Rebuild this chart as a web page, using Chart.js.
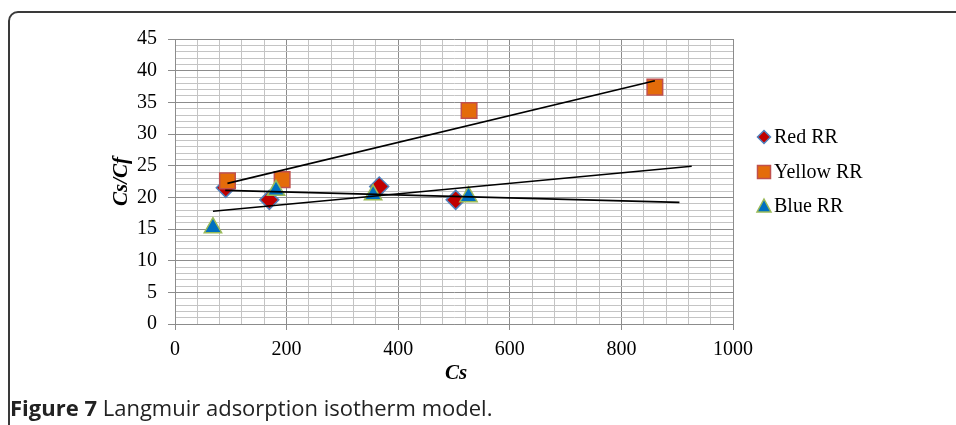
<!DOCTYPE html>
<html>
<head>
<meta charset="utf-8">
<script src="https://cdn.jsdelivr.net/npm/chart.js@4.4.1/dist/chart.umd.min.js"></script>
<style>
  html, body { margin: 0; padding: 0; background: #fff; overflow: hidden; }
  body { width: 956px; height: 425px; position: relative; }
  #frame {
    position: absolute; left: 8px; top: 11px; width: 1100px; height: 600px;
    border: 2px solid #3a3a3a; border-radius: 10px; box-sizing: border-box;
  }
  #chart { position: absolute; left: 0; top: 0; }
  #caption {
    position: absolute; left: 10px; top: 394px;
    font-family: "Open Sans", sans-serif; font-size: 22px; color: #222;
    white-space: nowrap; line-height: 26px;
  }
  #caption b { font-weight: 700; }
</style>
</head>
<body>
<div id="frame"></div>
<canvas id="chart" width="956" height="425"></canvas>
<div id="caption"><b>Figure 7</b> Langmuir adsorption isotherm model.</div>

<script>
// Ölçülen noktalar (Cs, Cs/Cf)
var redCs = [91, 169, 366, 503];
var redRatio = [21.5, 19.6, 21.7, 19.6];
var yellowCs = [94, 192, 527, 860];
var yellowRatio = [22.6, 22.8, 33.7, 37.4];
var blueCs = [68, 181, 355, 526];
var blueRatio = [15.2, 21.1, 20.4, 20.1];

// Trend çizgilerinin uç noktaları
var redTrendCs = [90, 904];
var redTrendRatio = [21.1, 19.2];
var yellowTrendCs = [94, 860];
var yellowTrendRatio = [22.2, 38.4];
var blueTrendCs = [68, 926];
var blueTrendRatio = [17.8, 24.9];

var seriesNames = ['Red RR', 'Yellow RR', 'Blue RR'];

function toPoints(xs, ys) {
    return xs.map(function (x, i) { return { x: x, y: ys[i] }; });
}

var MAJOR = '#8c8c8c';
var MINOR = '#c4c4c4';

var markerStyles = [
    { style: 'rectRot', fill: '#c00000', border: '#4f81bd', radius: 9.5 },
    { style: 'rect', fill: '#e46c0a', border: '#c0504d', radius: 11 },
    { style: 'triangle', fill: '#0070c0', border: '#9bbb59', radius: 10 }
];

function trend(xs, ys) {
    return {
        type: 'line',
        data: toPoints(xs, ys),
        borderColor: '#000',
        borderWidth: 1.6,
        pointRadius: 0,
        fill: false,
        order: 0
    };
}

// Excel gibi: ilk seri en altta
function scatter(i, xs, ys) {
    var m = markerStyles[i];
    return {
        type: 'scatter',
        label: seriesNames[i],
        data: toPoints(xs, ys),
        pointStyle: m.style,
        pointRadius: m.radius,
        pointHoverRadius: m.radius,
        backgroundColor: m.fill,
        borderColor: m.border,
        borderWidth: 1.5,
        order: 3 - i
    };
}

// Eksen başlıkları ve özel lejant
var extras = {
    id: 'extras',
    afterDraw: function (chart) {
        var c = chart.ctx;
        var area = chart.chartArea;
        c.save();
        c.fillStyle = '#000';
        c.font = 'italic bold 21px "Liberation Serif"';
        c.textAlign = 'center';
        c.textBaseline = 'middle';
        c.fillText('Cs', (area.left + area.right) / 2 + 2, 374);
        c.translate(122, (area.top + area.bottom) / 2);
        c.rotate(-Math.PI / 2);
        c.fillText('Cs/Cf', 0, 0);
        c.restore();

        var ys = [137, 172, 206];
        c.save();
        c.font = '20px "Liberation Serif"';
        c.textBaseline = 'middle';
        c.textAlign = 'left';
        markerStyles.forEach(function (m, i) {
            var x = 764, y = ys[i];
            c.beginPath();
            if (m.style === 'rectRot') {
                c.moveTo(x, y - 6.5); c.lineTo(x + 6.5, y); c.lineTo(x, y + 6.5); c.lineTo(x - 6.5, y);
            } else if (m.style === 'rect') {
                c.rect(x - 6.5, y - 6.5, 13, 13);
            } else {
                c.moveTo(x, y - 7); c.lineTo(x + 7, y + 6); c.lineTo(x - 7, y + 6);
            }
            c.closePath();
            c.fillStyle = m.fill;
            c.fill();
            c.lineWidth = 1.5;
            c.strokeStyle = m.border;
            c.stroke();
            c.fillStyle = '#000';
            c.fillText(seriesNames[i], 774, y + 1);
        });
        c.restore();
    }
};

var ctx = document.getElementById('chart').getContext('2d');
var chart = new Chart(ctx, {
    data: {
        datasets: [
            trend(redTrendCs, redTrendRatio),
            trend(yellowTrendCs, yellowTrendRatio),
            trend(blueTrendCs, blueTrendRatio),
            scatter(0, redCs, redRatio),
            scatter(1, yellowCs, yellowRatio),
            scatter(2, blueCs, blueRatio)
        ]
    },
    options: {
        responsive: false,
        animation: false,
        layout: { padding: { left: 0, top: 39, right: 223, bottom: 0 } },
        plugins: {
            legend: { display: false },
            tooltip: { enabled: false }
        },
        scales: {
            x: {
                type: 'linear',
                min: 0,
                max: 1000,
                afterFit: function (scale) { scale.height = 101; },
                border: { display: true, color: MAJOR, width: 1 },
                grid: {
                    color: function (c) { return c.tick.value % 200 === 0 ? MAJOR : MINOR; },
                    tickColor: function (c) { return c.tick.value % 200 === 0 ? MAJOR : 'rgba(0,0,0,0)'; },
                    tickLength: 6,
                    lineWidth: 1
                },
                ticks: {
                    stepSize: 40,
                    autoSkip: false,
                    maxRotation: 0,
                    padding: 8,
                    color: '#000',
                    font: { family: '"Liberation Serif"', size: 20 },
                    callback: function (v) { return v % 200 === 0 ? v : ''; }
                }
            },
            y: {
                type: 'linear',
                min: 0,
                max: 45,
                afterFit: function (scale) { scale.width = 175; },
                border: { display: true, color: MAJOR, width: 1 },
                grid: {
                    color: function (c) { return c.tick.value % 5 === 0 ? MAJOR : MINOR; },
                    tickColor: function (c) { return c.tick.value % 5 === 0 ? MAJOR : 'rgba(0,0,0,0)'; },
                    tickLength: 7,
                    lineWidth: 1
                },
                ticks: {
                    stepSize: 1,
                    autoSkip: false,
                    padding: 11,
                    color: '#000',
                    font: { family: '"Liberation Serif"', size: 20 },
                    callback: function (v) { return v % 5 === 0 ? v : ''; }
                }
            }
        }
    },
    plugins: [extras]
});
</script>
</body>
</html>
